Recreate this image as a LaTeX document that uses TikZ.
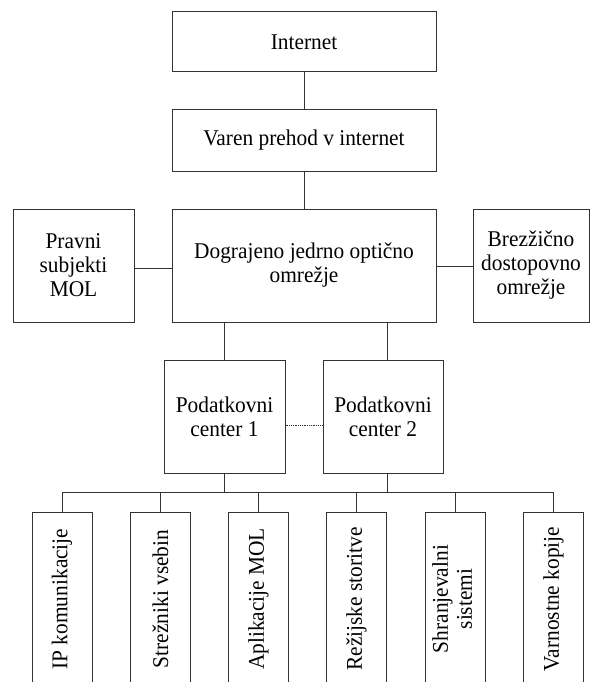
\documentclass[tikz,border=0pt]{standalone}
\usepackage{fontspec}
\setmainfont[FakeStretch=0.95]{Liberation Serif}
\usepackage{graphicx}
\begin{document}
\begin{tikzpicture}[x=1pt,y=-1pt,
  every node/.style={font=\fontsize{22.5}{24}\selectfont},
  box/.style={draw=black!80, line width=1pt, inner sep=0pt, align=center},
  vbox/.style={box, minimum width=60pt, minimum height=174pt},
  link/.style={draw=black!80, line width=1pt},
  dotlink/.style={draw=black!80, line width=0.8pt, densely dotted}]
\clip (0,0) rectangle (591,682);
\fill[white] (0,0) rectangle (591,682);
\node[box, minimum width=264pt, minimum height=60pt] (inet) at (304,42) {Internet};
\node[box, minimum width=264pt, minimum height=61pt] (varen) at (304,140.5) {Varen prehod v internet};
\node[box, minimum width=264pt, minimum height=113pt] (main) at (304,265.5) {Dograjeno jedrno optično\\omrežje};
\node[box, minimum width=121pt, minimum height=113pt] (pravni) at (73.5,265.5) {Pravni\\subjekti\\MOL};
\node[box, minimum width=116pt, minimum height=113pt] (brez) at (531,265.5) {Brezžično\\dostopovno\\omrežje};
\node[box, minimum width=121pt, minimum height=113pt] (pc1) at (224.5,416.5) {Podatkovni\\center 1};
\node[box, minimum width=120pt, minimum height=113pt] (pc2) at (383,416.5) {Podatkovni\\center 2};
\node[vbox] (b1) at (62,599) {\rotatebox{90}{IP komunikacije}};
\node[vbox] (b2) at (160.5,599) {\rotatebox{90}{Strežniki vsebin}};
\node[vbox] (b3) at (258.5,599) {\rotatebox{90}{Aplikacije MOL}};
\node[vbox] (b4) at (356.5,599) {\rotatebox{90}{Režijske storitve}};
\node[vbox] (b5) at (455,599) {\rotatebox{90}{\begin{tabular}{@{}c@{}}Shranjevalni\\sistemi\end{tabular}}};
\node[vbox] (b6) at (553.5,599) {\rotatebox{90}{Varnostne kopije}};
\coordinate (bus) at (0,492);
\path[link] (inet) -- (varen);
\path[link] (varen) -- (main);
\path[link] (pravni.east |- 0,268) -- (main.west |- 0,268);
\path[link] (main.east |- 0,266) -- (brez.west |- 0,266);
\path[link] (main.south -| pc1.north) -- (pc1.north);
\path[link] ([xshift=4pt]pc2.north |- main.south) -- ([xshift=4pt]pc2.north);
\path[dotlink] ([yshift=-8.5pt]pc1.east) -- ([yshift=-8.5pt]pc2.west);
\path[link] (pc1.south) -- (pc1.south |- bus);
\path[link] ([xshift=4pt]pc2.south) -- ([xshift=4pt]pc2.south |- bus);
\path[link] (b1.north) -- (b1.north |- bus) -- (b6.north |- bus) -- (b6.north);
\foreach \b in {b2,b3,b4,b5} \path[link] (\b.north) -- (\b.north |- bus);
\end{tikzpicture}
\end{document}
